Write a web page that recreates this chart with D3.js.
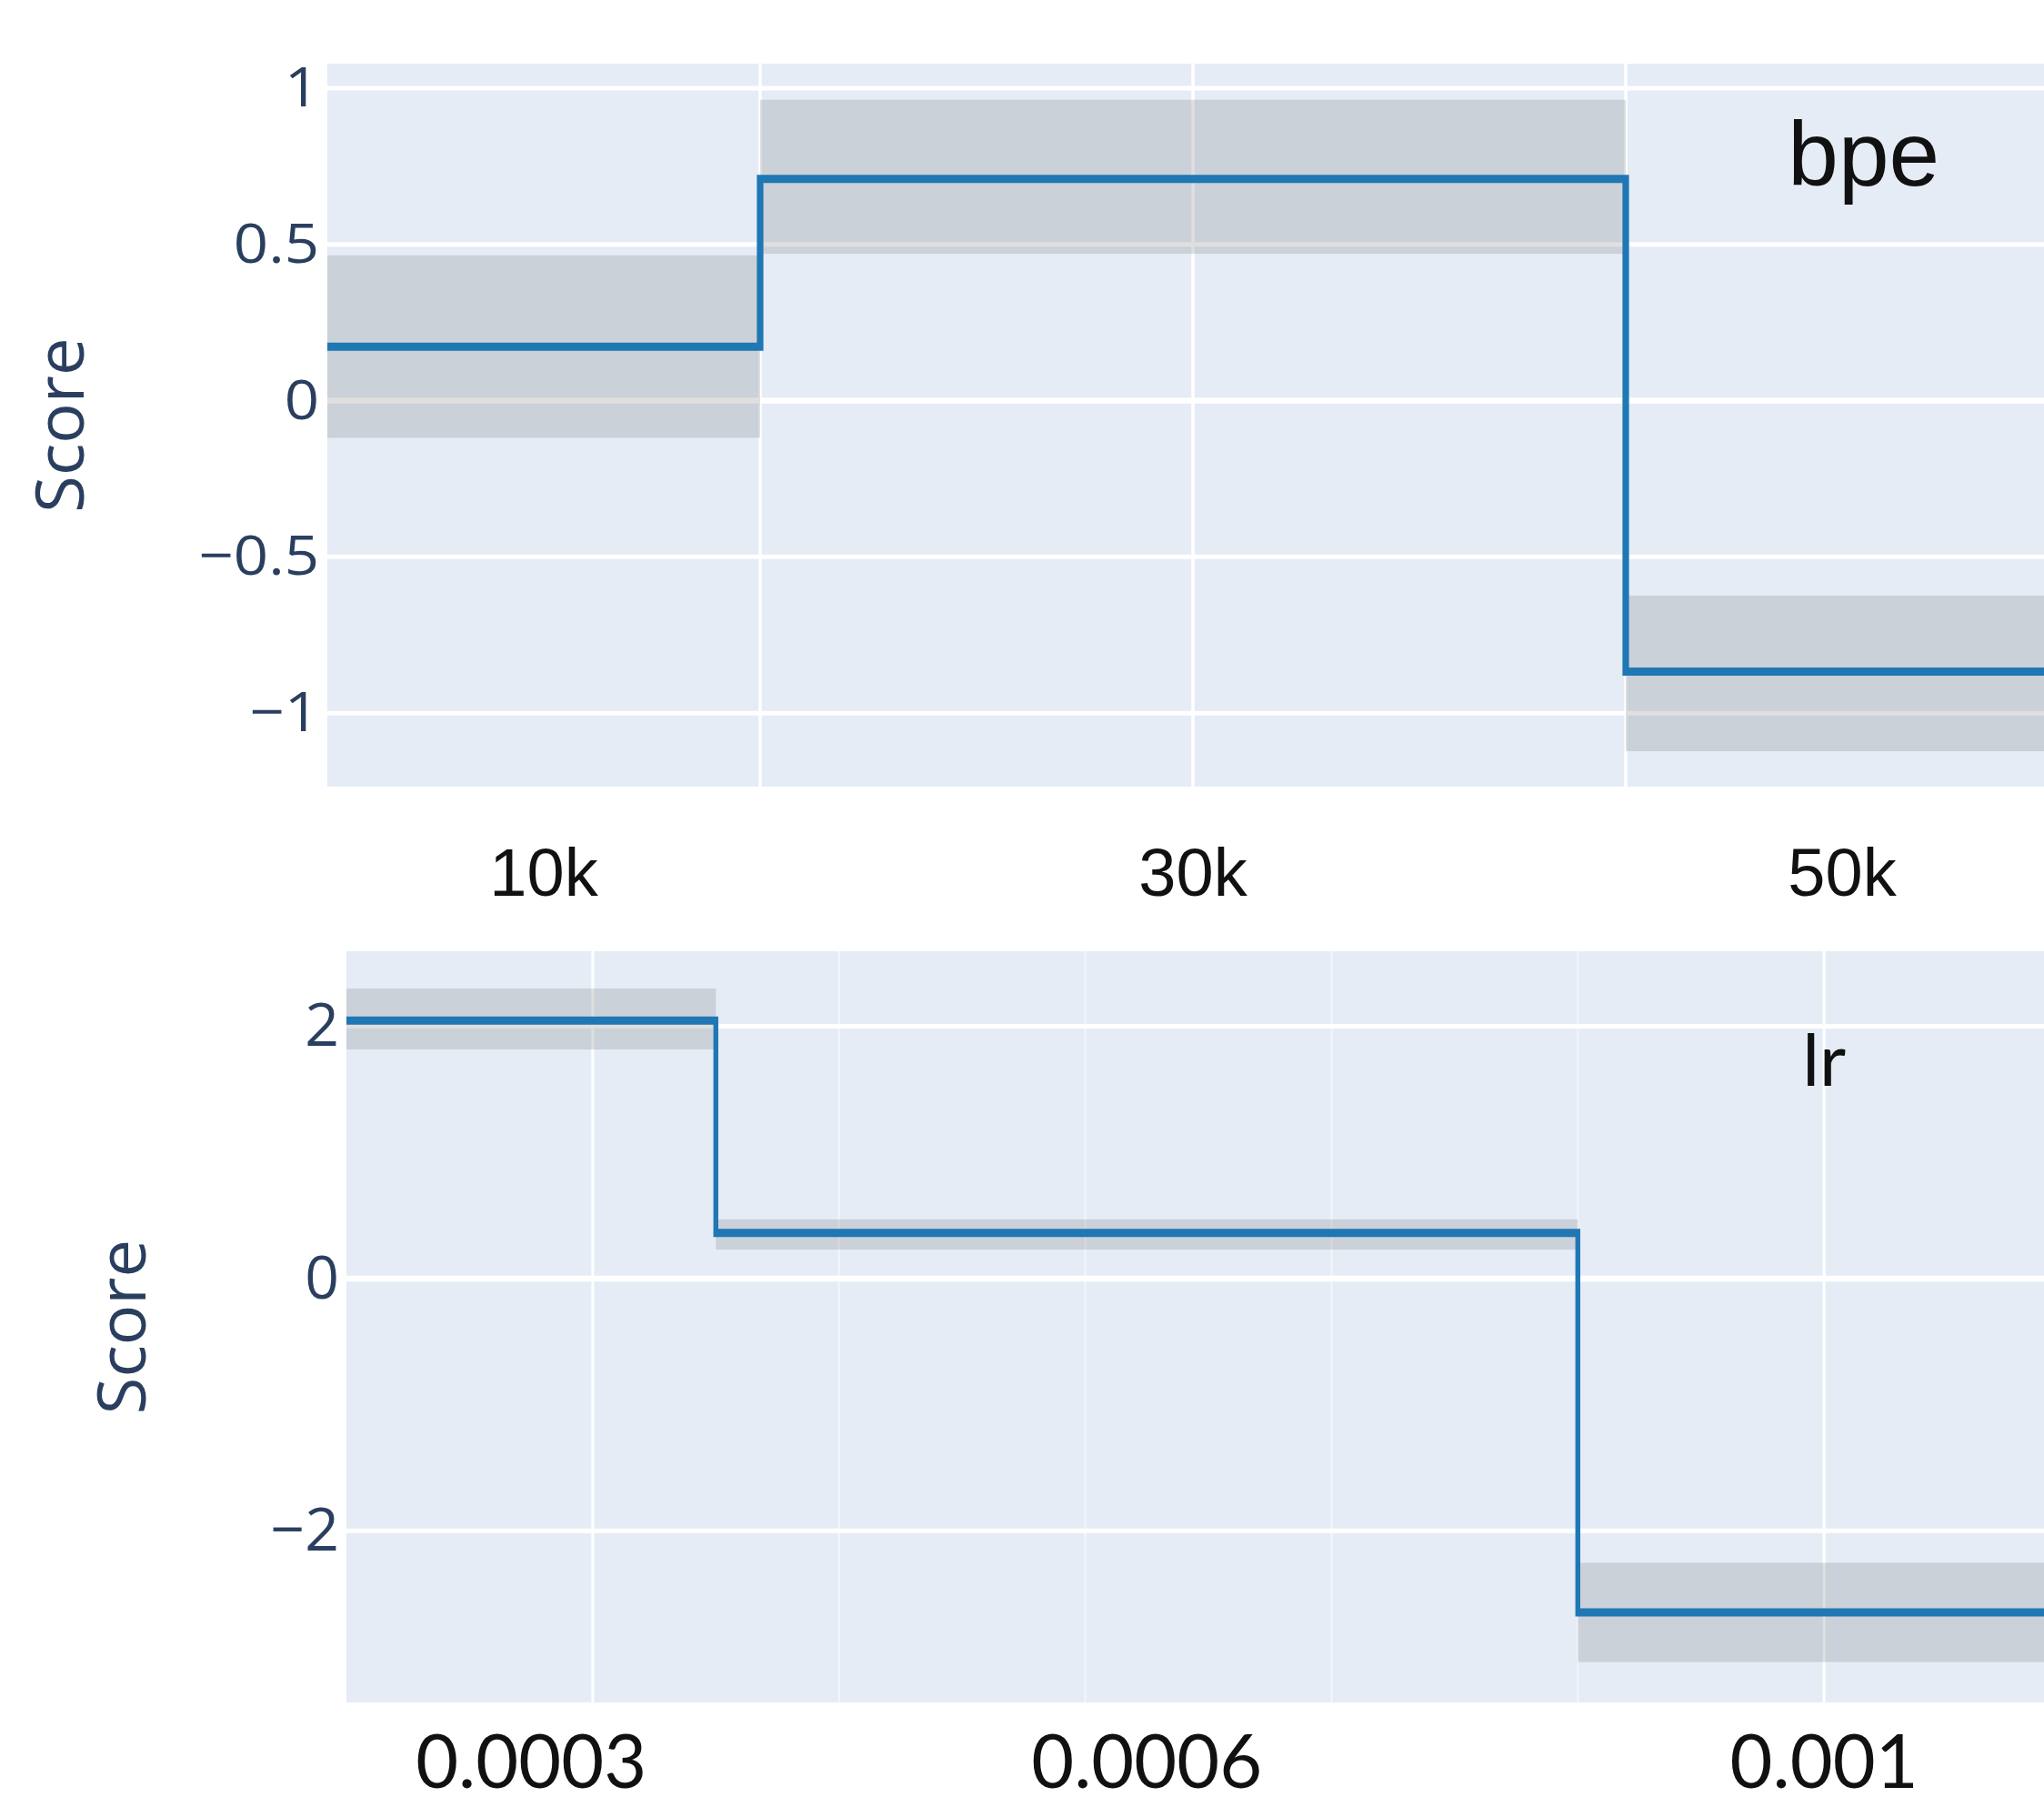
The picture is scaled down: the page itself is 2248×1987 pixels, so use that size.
<!DOCTYPE html>
<html>
<head>
<meta charset="utf-8">
<script src="https://cdn.jsdelivr.net/npm/d3@7"></script>
<style>
  body { margin: 0; background: #fff; }
  svg { display: block; }
</style>
</head>
<body>
<svg id="chart"></svg>
<script>
// bpe panel: segment edges on the x axis, segment names, marginal score and its band
const bpeBreaks = [10000, 20000, 40000, 50000];
const bpeLabels = ["10k", "30k", "50k"];
const bpeMean = [0.173, 0.71, -0.867];
const bpeLow = [-0.119, 0.47, -1.122];
const bpeHigh = [0.465, 0.963, -0.624];
const bpeYTicks = [-1, -0.5, 0, 0.5, 1];
const bpeXGrid = [20000, 30000, 40000];

// lr panel
const lrBreaks = [0.0004, 0.00055, 0.0009, 0.0011];
const lrLabels = ["0.0003", "0.0006", "0.001"];
const lrMean = [2.046, 0.362, -2.646];
const lrLow = [1.817, 0.23, -3.04];
const lrHigh = [2.3, 0.47, -2.253];
const lrYTicks = [-2, 0, 2];
const lrXGrid = [0.0005, 0.001];
const lrXMinor = [0.0006, 0.0007, 0.0008, 0.0009];

const W = 2248, H = 1987;
const svg = d3.select("#chart").attr("width", W).attr("height", H);

const panels = [
  {
    name: "bpe", breaks: bpeBreaks, labels: bpeLabels, mean: bpeMean, low: bpeLow, high: bpeHigh,
    yTicks: bpeYTicks, xGrid: bpeXGrid, xMinor: [],
    yDomain: [-1.2354, 1.0786],
    left: 360, right: 2264, top: 70, bottom: 865,
    tickSize: 61, tickStretch: 1.1, titleX: 66, titleSize: 74,
    hGrid: 5, vGrid: 3.5, lineW: 9, lineSx: 0.8,
    labelFont: "'Liberation Sans', Arial, sans-serif", labelSize: 74, labelDy: 120,
    nameSize: 100, nameAt: [45500, 0.688]
  },
  {
    name: "lr", breaks: lrBreaks, labels: lrLabels, mean: lrMean, low: lrLow, high: lrHigh,
    yTicks: lrYTicks, xGrid: lrXGrid, xMinor: lrXMinor,
    yDomain: [-3.36, 2.5955],
    left: 381, right: 2277, top: 1046, bottom: 1872,
    tickSize: 66, tickStretch: 1.0, titleX: 134, titleSize: 74,
    hGrid: 5, vGrid: 3, lineW: 9, lineSx: 0.6,
    labelFont: "Lato, 'Open Sans', sans-serif", labelSize: 81, labelDy: 94,
    nameSize: 80, nameAt: [0.001, 1.53]
  }
];

panels.forEach(drawPanel);

function drawPanel(p) {
  const x = d3.scaleLinear()
    .domain([p.breaks[0], p.breaks[p.breaks.length - 1]])
    .range([p.left, p.right]);
  const y = d3.scaleLinear().domain(p.yDomain).range([p.bottom, p.top]);

  const g = svg.append("g");

  g.append("rect")
    .attr("x", p.left).attr("y", p.top)
    .attr("width", p.right - p.left).attr("height", p.bottom - p.top)
    .attr("fill", "#e5ecf6");

  // minor vertical grid
  g.selectAll(".minor").data(p.xMinor).enter().append("line")
    .attr("x1", d => x(d)).attr("x2", d => x(d))
    .attr("y1", p.top).attr("y2", p.bottom)
    .attr("stroke", "rgba(255,255,255,0.45)")
    .attr("stroke-width", 2.5);

  g.selectAll(".vgrid").data(p.xGrid).enter().append("line")
    .attr("x1", d => x(d)).attr("x2", d => x(d))
    .attr("y1", p.top).attr("y2", p.bottom)
    .attr("stroke", "#fff")
    .attr("stroke-width", p.vGrid);

  g.selectAll(".hgrid").data(p.yTicks).enter().append("line")
    .attr("x1", p.left).attr("x2", p.right)
    .attr("y1", d => y(d)).attr("y2", d => y(d))
    .attr("stroke", "#fff")
    .attr("stroke-width", d => d === 0 ? p.hGrid + 1.5 : p.hGrid);

  const segs = p.mean.map((m, i) => ({
    x0: p.breaks[i], x1: p.breaks[i + 1], mean: m, lo: p.low[i], hi: p.high[i], label: p.labels[i]
  }));

  // uncertainty bands
  g.selectAll(".band").data(segs).enter().append("rect")
    .attr("x", d => x(d.x0))
    .attr("width", d => x(d.x1) - x(d.x0))
    .attr("y", d => y(d.hi))
    .attr("height", d => y(d.lo) - y(d.hi))
    .attr("fill", "rgba(128,128,128,0.25)");

  // step line; drawn in a squeezed group so the risers come out thinner than the treads
  const pts = segs.map(d => [d.x0, d.mean]);
  pts.push([segs[segs.length - 1].x1, segs[segs.length - 1].mean]);
  const line = d3.line()
    .x(d => x(d[0]) / p.lineSx)
    .y(d => y(d[1]))
    .curve(d3.curveStepAfter);

  g.append("g")
    .attr("transform", `scale(${p.lineSx},1)`)
    .append("path")
    .datum(pts)
    .attr("d", line)
    .attr("fill", "none")
    .attr("stroke", "#1f77b4")
    .attr("stroke-width", p.lineW)
    .attr("stroke-linejoin", "miter");

  // y axis labels
  const axis = g.append("g")
    .attr("transform", `translate(${p.left},0)`)
    .call(d3.axisLeft(y).tickValues(p.yTicks).tickSize(0).tickPadding(8).tickFormat(d3.format("~g")));
  axis.select(".domain").remove();
  axis.selectAll("text")
    .attr("transform", `scale(${p.tickStretch},1)`)
    .style("font-family", "'Open Sans', sans-serif")
    .style("font-size", p.tickSize + "px")
    .style("fill", "#2a3f5f");

  g.append("text")
    .attr("transform", `translate(${p.titleX},${(p.top + p.bottom) / 2}) rotate(-90)`)
    .attr("text-anchor", "middle")
    .attr("dy", "0.35em")
    .style("font-family", "'Open Sans', sans-serif")
    .style("font-size", p.titleSize + "px")
    .style("fill", "#2a3f5f")
    .text("Score");

  // category names under each segment
  g.selectAll(".seglabel").data(segs).enter().append("text")
    .attr("x", d => (x(d.x0) + x(d.x1)) / 2)
    .attr("y", p.bottom + p.labelDy)
    .attr("text-anchor", "middle")
    .style("font-family", p.labelFont)
    .style("font-size", p.labelSize + "px")
    .style("fill", "#111")
    .text(d => d.label);

  g.append("text")
    .attr("x", x(p.nameAt[0]))
    .attr("y", y(p.nameAt[1]))
    .attr("text-anchor", "middle")
    .style("font-family", p.labelFont)
    .style("font-size", p.nameSize + "px")
    .style("fill", "#111")
    .text(p.name);
}
</script>
</body>
</html>
